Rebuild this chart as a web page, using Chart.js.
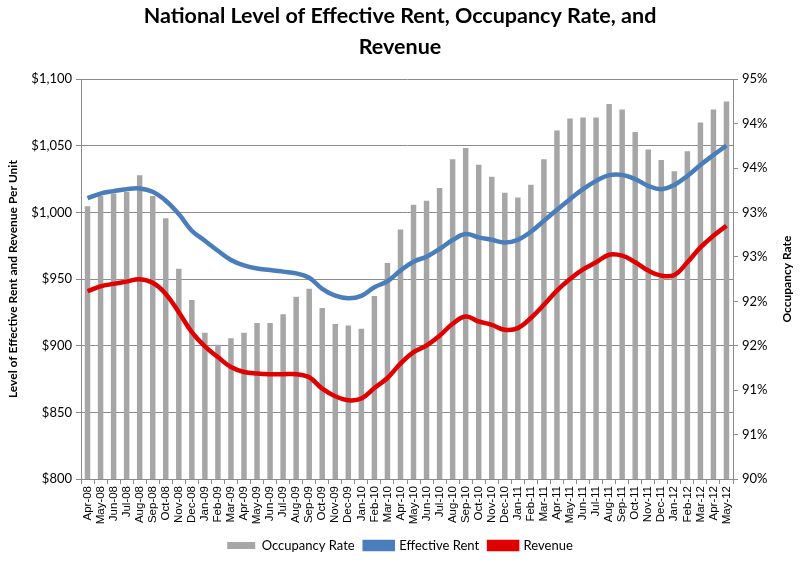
<!DOCTYPE html>
<html>
<head>
<meta charset="utf-8">
<script src="https://cdn.jsdelivr.net/npm/chart.js@4"></script>
<style>
  html, body { margin: 0; padding: 0; background: #fff; }
  #wrap { width: 800px; height: 562px; }
</style>
</head>
<body>
<div id="wrap"><canvas id="chart" width="800" height="562"></canvas></div>
<script>
const months = [
    'Apr-08', 'May-08', 'Jun-08', 'Jul-08', 'Aug-08', 'Sep-08', 'Oct-08', 'Nov-08', 'Dec-08',
    'Jan-09', 'Feb-09', 'Mar-09', 'Apr-09', 'May-09', 'Jun-09', 'Jul-09', 'Aug-09', 'Sep-09', 'Oct-09', 'Nov-09', 'Dec-09',
    'Jan-10', 'Feb-10', 'Mar-10', 'Apr-10', 'May-10', 'Jun-10', 'Jul-10', 'Aug-10', 'Sep-10', 'Oct-10', 'Nov-10', 'Dec-10',
    'Jan-11', 'Feb-11', 'Mar-11', 'Apr-11', 'May-11', 'Jun-11', 'Jul-11', 'Aug-11', 'Sep-11', 'Oct-11', 'Nov-11', 'Dec-11',
    'Jan-12', 'Feb-12', 'Mar-12', 'Apr-12', 'May-12'
]

// occupancy rate, %
const occupancy = [
    93.41, 93.54, 93.57, 93.59, 93.80, 93.54, 93.26, 92.63, 92.24,
    91.83, 91.68, 91.76, 91.83, 91.95, 91.95, 92.06, 92.28, 92.38, 92.14, 91.94, 91.92,
    91.88, 92.29, 92.70, 93.12, 93.43, 93.48, 93.64, 94.00, 94.14, 93.93, 93.78, 93.58,
    93.52, 93.68, 94.00, 94.36, 94.51, 94.52, 94.52, 94.69, 94.62, 94.34, 94.12, 93.99,
    93.85, 94.10, 94.46, 94.62, 94.72
]

// effective rent, $ per unit
const effectiveRent = [
    1010.7, 1014.2, 1016.0, 1017.5, 1018.0, 1015.5, 1008.8, 998.8, 986.3,
    978.8, 971.3, 964.4, 960.3, 957.9, 956.9, 955.6, 954.3, 951.0, 942.7, 937.6, 935.6,
    937.4, 943.9, 948.4, 956.4, 963.1, 966.8, 972.6, 979.3, 983.8, 981.3, 979.5, 977.5,
    979.5, 985.5, 993.8, 1002.0, 1010.0, 1017.5, 1023.7, 1028.0, 1028.2, 1025.0, 1020.0, 1017.5,
    1020.7, 1027.4, 1035.6, 1043.1, 1050.3
]

// revenue, $ per unit
const revenue = [
    940.9, 944.6, 946.4, 948.1, 949.9, 947.2, 938.9, 925.2, 910.2,
    899.5, 891.5, 884.0, 880.3, 879.1, 878.6, 878.6, 878.6, 876.3, 867.8, 862.1, 859.1,
    860.4, 868.3, 875.8, 886.6, 895.2, 900.2, 907.5, 916.5, 921.9, 918.2, 915.7, 912.0,
    913.2, 920.8, 930.7, 941.4, 950.1, 957.3, 962.6, 968.3, 967.6, 962.6, 956.4, 952.6,
    953.1, 962.6, 973.8, 982.5, 990.0
]

const rentTicks = [800, 850, 900, 950, 1000, 1050, 1100]
const occTickLabels = ['90%', '91%', '91%', '92%', '92%', '93%', '93%', '94%', '94%', '95%']

const gridColor = '#8c8c8c'
const labelFont = { family: 'Lato', size: 13 }
const axisTitleFont = 'bold 12px Lato'

// right axis title reads bottom-to-top like the left one
const rightTitle = {
    id: 'rightTitle',
    afterDraw(chart) {
        const c = chart.ctx
        const area = chart.chartArea
        c.save()
        c.translate(787, (area.top + area.bottom) / 2)
        c.rotate(-Math.PI / 2)
        c.font = axisTitleFont
        c.fillStyle = '#000'
        c.textAlign = 'center'
        c.textBaseline = 'middle'
        c.fillText('Occupancy Rate', 0, 0)
        c.restore()
    }
}

const ctx = document.getElementById('chart').getContext('2d')
new Chart(ctx, {
    data: {
        labels: months,
        datasets: [
            {
                type: 'bar',
                label: 'Occupancy Rate',
                data: occupancy,
                yAxisID: 'occ',
                backgroundColor: '#a6a6a6',
                barPercentage: 0.42,
                categoryPercentage: 1,
                order: 3
            },
            {
                type: 'line',
                label: 'Effective Rent',
                data: effectiveRent,
                yAxisID: 'rent',
                borderColor: '#4a7ebb',
                backgroundColor: '#4a7ebb',
                borderWidth: 4.5,
                pointRadius: 0,
                tension: 0.4,
                order: 2
            },
            {
                type: 'line',
                label: 'Revenue',
                data: revenue,
                yAxisID: 'rent',
                borderColor: '#e00000',
                backgroundColor: '#e00000',
                borderWidth: 4.5,
                pointRadius: 0,
                tension: 0.4,
                order: 1
            }
        ]
    },
    options: {
        responsive: false,
        animation: false,
        layout: { padding: 0 },
        scales: {
            x: {
                offset: true,
                grid: {
                    display: true,
                    offset: true,
                    drawOnChartArea: false,
                    tickLength: 5,
                    color: gridColor
                },
                border: { color: gridColor },
                ticks: {
                    autoSkip: false,
                    minRotation: 90,
                    maxRotation: 90,
                    padding: 2,
                    color: '#000',
                    font: { family: 'Liberation Sans', size: 11.5 }
                },
                afterFit: (scale) => { scale.height = 50 }
            },
            rent: {
                position: 'left',
                min: 800,
                max: 1100,
                afterBuildTicks: (scale) => { scale.ticks = rentTicks.map(v => ({ value: v })) },
                grid: { color: gridColor, tickLength: 5 },
                border: { color: gridColor },
                ticks: {
                    color: '#000',
                    font: labelFont,
                    padding: 4,
                    callback: (v) => '$' + v.toLocaleString('en-US')
                },
                title: {
                    display: true,
                    text: 'Level of Effective Rent and Revenue Per Unit',
                    color: '#000',
                    font: { family: 'Lato', size: 12, weight: 'bold' },
                    padding: { top: 6, bottom: 2 }
                },
                afterFit: (scale) => { scale.width = 81 }
            },
            occ: {
                position: 'right',
                min: 90,
                max: 95,
                grid: { drawOnChartArea: false, color: gridColor, tickLength: 5 },
                border: { color: gridColor },
                ticks: {
                    count: 10,
                    color: '#000',
                    font: labelFont,
                    padding: 4,
                    callback: (v, i) => occTickLabels[i]
                },
                afterFit: (scale) => { scale.width = 67 }
            }
        },
        plugins: {
            title: {
                display: true,
                text: ['National Level of Effective Rent, Occupancy Rate, and', 'Revenue'],
                color: '#000',
                font: { family: 'Lato', size: 21.5, weight: 'bold', lineHeight: 1.47 },
                padding: { top: 0, bottom: 16 }
            },
            legend: {
                position: 'bottom',
                reverse: true,
                labels: {
                    color: '#000',
                    font: labelFont,
                    boxWidth: 28,
                    boxHeight: 7,
                    padding: 10
                }
            },
            tooltip: { enabled: false }
        }
    },
    plugins: [rightTitle]
})
</script>
</body>
</html>
